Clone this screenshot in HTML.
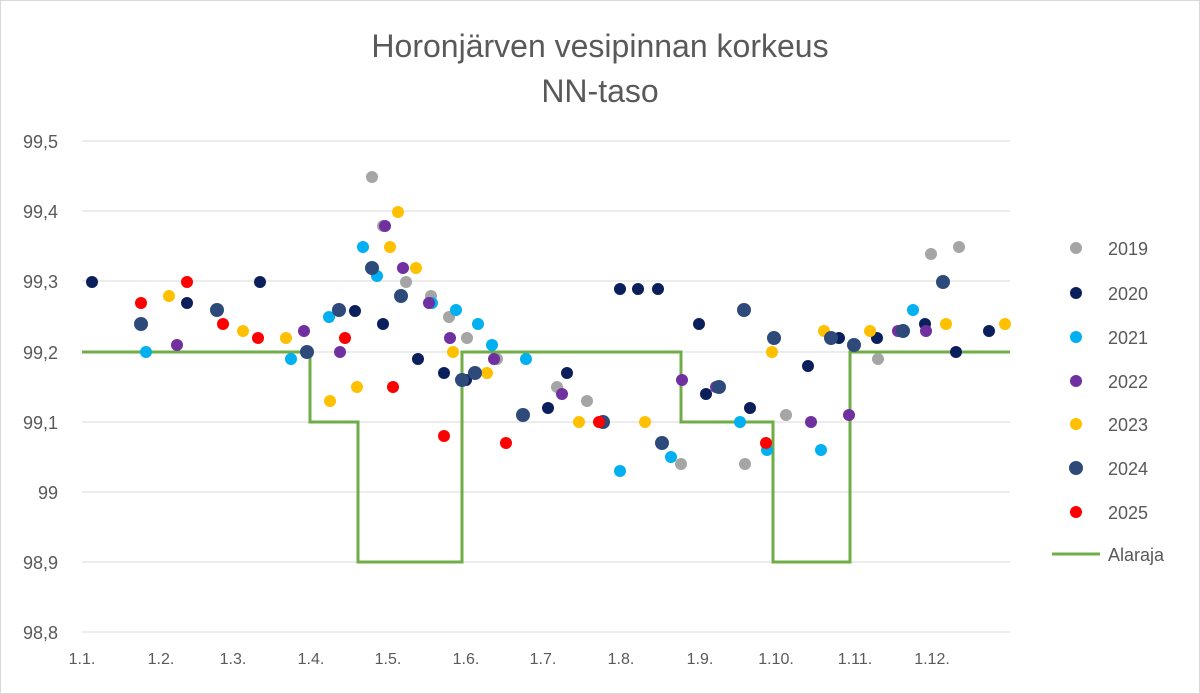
<!DOCTYPE html><html><head><meta charset="utf-8"><style>body{margin:0;background:#fff}svg{display:block;font-family:"Liberation Sans",sans-serif}</style></head><body>
<svg width="1200" height="694" xmlns="http://www.w3.org/2000/svg">
<rect x="0.5" y="0.5" width="1199" height="693" fill="#fff" stroke="#d9d9d9"/>
<text x="600" y="57" font-size="32" fill="#595959" text-anchor="middle">Horonjärven vesipinnan korkeus</text>
<text x="600" y="102" font-size="32" fill="#595959" text-anchor="middle">NN-taso</text>
<g stroke="#d9d9d9" stroke-width="1">
<line x1="82" x2="1010" y1="141" y2="141"/><line x1="82" x2="1010" y1="211" y2="211"/><line x1="82" x2="1010" y1="281" y2="281"/><line x1="82" x2="1010" y1="352" y2="352"/><line x1="82" x2="1010" y1="422" y2="422"/><line x1="82" x2="1010" y1="492" y2="492"/><line x1="82" x2="1010" y1="562" y2="562"/><line x1="82" x2="1010" y1="632" y2="632"/>
</g>
<g font-size="18" fill="#595959" text-anchor="end">
<text x="58" y="148">99,5</text><text x="58" y="218">99,4</text><text x="58" y="288">99,3</text><text x="58" y="359">99,2</text><text x="58" y="429">99,1</text><text x="58" y="499">99</text><text x="58" y="569">98,9</text><text x="58" y="639">98,8</text>
</g>
<g font-size="16" fill="#595959" text-anchor="middle">
<text x="82" y="664">1.1.</text><text x="161" y="664">1.2.</text><text x="233" y="664">1.3.</text><text x="311" y="664">1.4.</text><text x="388" y="664">1.5.</text><text x="466" y="664">1.6.</text><text x="543" y="664">1.7.</text><text x="621" y="664">1.8.</text><text x="700" y="664">1.9.</text><text x="776" y="664">1.10.</text><text x="855" y="664">1.11.</text><text x="932" y="664">1.12.</text>
</g>
<polyline fill="none" stroke="#70ad47" stroke-width="3" points="82,352 310,352 310,422 358,422 358,562 462,562 462,352 681,352 681,422 773,422 773,562 850,562 850,352 1010,352"/>
<g fill="#a5a5a5"><circle cx="372" cy="177" r="6"/><circle cx="406" cy="282" r="6"/><circle cx="431" cy="296" r="6"/><circle cx="449" cy="317" r="6"/><circle cx="467" cy="338" r="6"/><circle cx="497" cy="359" r="6"/><circle cx="557" cy="387" r="6"/><circle cx="587" cy="401" r="6"/><circle cx="681" cy="464" r="6"/><circle cx="745" cy="464" r="6"/><circle cx="786" cy="415" r="6"/><circle cx="878" cy="359" r="6"/><circle cx="931" cy="254" r="6"/><circle cx="959" cy="247" r="6"/><circle cx="383" cy="226" r="6"/></g>
<g fill="#0b1f5c"><circle cx="92" cy="282" r="6"/><circle cx="187" cy="303" r="6"/><circle cx="260" cy="282" r="6"/><circle cx="355" cy="311" r="6"/><circle cx="383" cy="324" r="6"/><circle cx="418" cy="359" r="6"/><circle cx="444" cy="373" r="6"/><circle cx="466" cy="380" r="6"/><circle cx="548" cy="408" r="6"/><circle cx="567" cy="373" r="6"/><circle cx="620" cy="289" r="6"/><circle cx="638" cy="289" r="6"/><circle cx="658" cy="289" r="6"/><circle cx="699" cy="324" r="6"/><circle cx="706" cy="394" r="6"/><circle cx="750" cy="408" r="6"/><circle cx="808" cy="366" r="6"/><circle cx="839" cy="338" r="6"/><circle cx="877" cy="338" r="6"/><circle cx="925" cy="324" r="6"/><circle cx="956" cy="352" r="6"/><circle cx="989" cy="331" r="6"/></g>
<g fill="#00b0f0"><circle cx="146" cy="352" r="6"/><circle cx="291" cy="359" r="6"/><circle cx="329" cy="317" r="6"/><circle cx="363" cy="247" r="6"/><circle cx="377" cy="276" r="6"/><circle cx="432" cy="303" r="6"/><circle cx="456" cy="310" r="6"/><circle cx="478" cy="324" r="6"/><circle cx="492" cy="345" r="6"/><circle cx="526" cy="359" r="6"/><circle cx="620" cy="471" r="6"/><circle cx="671" cy="457" r="6"/><circle cx="740" cy="422" r="6"/><circle cx="767" cy="450" r="6"/><circle cx="821" cy="450" r="6"/><circle cx="913" cy="310" r="6"/></g>
<g fill="#7030a0"><circle cx="177" cy="345" r="6"/><circle cx="304" cy="331" r="6"/><circle cx="340" cy="352" r="6"/><circle cx="385" cy="226" r="6"/><circle cx="403" cy="268" r="6"/><circle cx="429" cy="303" r="6"/><circle cx="450" cy="338" r="6"/><circle cx="494" cy="359" r="6"/><circle cx="562" cy="394" r="6"/><circle cx="682" cy="380" r="6"/><circle cx="716" cy="387" r="6"/><circle cx="811" cy="422" r="6"/><circle cx="849" cy="415" r="6"/><circle cx="898" cy="331" r="6"/><circle cx="926" cy="331" r="6"/></g>
<g fill="#ffc000"><circle cx="169" cy="296" r="6"/><circle cx="243" cy="331" r="6"/><circle cx="286" cy="338" r="6"/><circle cx="330" cy="401" r="6"/><circle cx="357" cy="387" r="6"/><circle cx="390" cy="247" r="6"/><circle cx="398" cy="212" r="6"/><circle cx="416" cy="268" r="6"/><circle cx="453" cy="352" r="6"/><circle cx="487" cy="373" r="6"/><circle cx="579" cy="422" r="6"/><circle cx="645" cy="422" r="6"/><circle cx="772" cy="352" r="6"/><circle cx="824" cy="331" r="6"/><circle cx="870" cy="331" r="6"/><circle cx="946" cy="324" r="6"/><circle cx="1005" cy="324" r="6"/></g>
<g fill="#2e4a7a"><circle cx="141" cy="324" r="7"/><circle cx="217" cy="310" r="7"/><circle cx="307" cy="352" r="7"/><circle cx="339" cy="310" r="7"/><circle cx="372" cy="268" r="7"/><circle cx="401" cy="296" r="7"/><circle cx="462" cy="380" r="7"/><circle cx="475" cy="373" r="7"/><circle cx="523" cy="415" r="7"/><circle cx="603" cy="422" r="7"/><circle cx="662" cy="443" r="7"/><circle cx="719" cy="387" r="7"/><circle cx="744" cy="310" r="7"/><circle cx="774" cy="338" r="7"/><circle cx="831" cy="338" r="7"/><circle cx="854" cy="345" r="7"/><circle cx="903" cy="331" r="7"/><circle cx="943" cy="282" r="7"/></g>
<g fill="#ff0000"><circle cx="141" cy="303" r="6"/><circle cx="187" cy="282" r="6"/><circle cx="223" cy="324" r="6"/><circle cx="258" cy="338" r="6"/><circle cx="345" cy="338" r="6"/><circle cx="393" cy="387" r="6"/><circle cx="444" cy="436" r="6"/><circle cx="506" cy="443" r="6"/><circle cx="599" cy="422" r="6"/><circle cx="766" cy="443" r="6"/></g>
<g font-size="18" fill="#595959">
<circle cx="1076" cy="248" r="6" fill="#a5a5a5"/><text x="1108" y="255">2019</text>
<circle cx="1076" cy="293" r="6" fill="#0b1f5c"/><text x="1108" y="300">2020</text>
<circle cx="1076" cy="337" r="6" fill="#00b0f0"/><text x="1108" y="344">2021</text>
<circle cx="1076" cy="381" r="6" fill="#7030a0"/><text x="1108" y="388">2022</text>
<circle cx="1076" cy="424" r="6" fill="#ffc000"/><text x="1108" y="431">2023</text>
<circle cx="1076" cy="468" r="7" fill="#2e4a7a"/><text x="1108" y="475">2024</text>
<circle cx="1076" cy="512" r="6" fill="#ff0000"/><text x="1108" y="519">2025</text>
<line x1="1052" x2="1100" y1="554" y2="554" stroke="#70ad47" stroke-width="3"/><text x="1108" y="561">Alaraja</text>
</g>
</svg></body></html>
